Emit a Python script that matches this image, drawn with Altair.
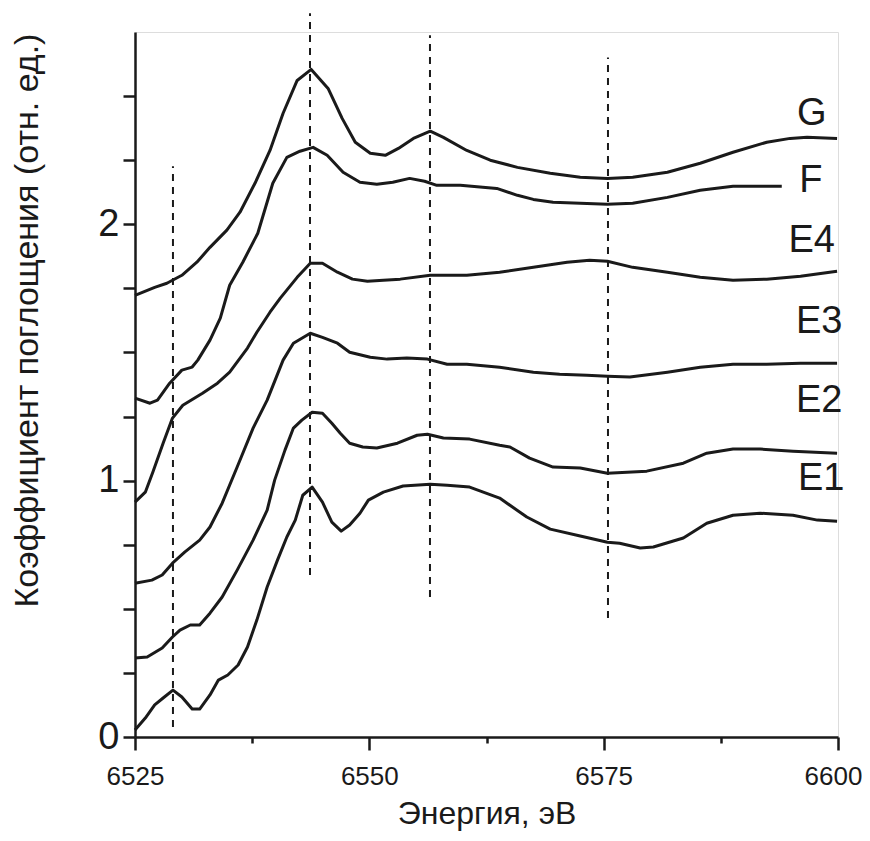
import altair as alt
import pandas as pd

# ---- spectra (energy in eV, absorption in rel. units) ----
G_E = [6525.0, 6527.1, 6528.4, 6530.0, 6531.6, 6533.0, 6534.8, 6536.2, 6537.8, 6539.4, 6540.8, 6542.3,
       6543.8, 6545.6, 6547.1, 6548.5, 6550.1, 6551.7, 6553.1, 6554.7, 6556.5, 6557.9, 6560.4, 6562.9,
       6565.8, 6569.3, 6572.5, 6575.4, 6578.1, 6581.8, 6585.3, 6588.8, 6592.4, 6594.9, 6596.7, 6599.9]
G_mu = [1.723, 1.754, 1.770, 1.801, 1.852, 1.910, 1.977, 2.047, 2.160, 2.288, 2.433, 2.561,
        2.604, 2.530, 2.413, 2.320, 2.277, 2.269, 2.296, 2.335, 2.363, 2.339, 2.288, 2.250,
        2.222, 2.199, 2.183, 2.179, 2.183, 2.203, 2.238, 2.281, 2.320, 2.335, 2.339, 2.335]

F_E = [6525.0, 6526.6, 6527.4, 6528.7, 6530.0, 6531.1, 6531.7, 6533.0, 6534.1, 6535.1, 6536.5, 6538.1,
       6539.7, 6541.2, 6542.6, 6544.0, 6545.5, 6547.2, 6549.0, 6550.8, 6552.5, 6554.3, 6555.9, 6557.2,
       6559.7, 6563.6, 6565.8, 6567.5, 6569.6, 6572.5, 6575.4, 6578.1, 6581.8, 6585.3, 6588.8, 6590.9, 6594.0]
F_mu = [1.322, 1.302, 1.314, 1.380, 1.431, 1.443, 1.470, 1.548, 1.634, 1.762, 1.852, 1.965,
        2.160, 2.261, 2.285, 2.300, 2.269, 2.203, 2.164, 2.156, 2.164, 2.179, 2.168, 2.152,
        2.152, 2.140, 2.113, 2.097, 2.086, 2.082, 2.078, 2.082, 2.105, 2.133, 2.148, 2.148, 2.148]

E4_E = [6525.0, 6526.1, 6526.9, 6528.0, 6529.0, 6530.1, 6532.2, 6533.8, 6535.1, 6537.0, 6538.0, 6539.4,
        6540.5, 6542.3, 6543.7, 6545.0, 6546.6, 6548.2, 6549.8, 6551.5, 6553.3, 6556.5, 6560.4, 6563.9,
        6567.5, 6571.1, 6573.5, 6575.4, 6578.1, 6581.8, 6585.3, 6588.8, 6592.4, 6596.0, 6599.9]
E4_mu = [0.916, 0.955, 1.033, 1.146, 1.244, 1.294, 1.341, 1.380, 1.423, 1.517, 1.579, 1.657,
         1.712, 1.793, 1.848, 1.848, 1.813, 1.786, 1.778, 1.782, 1.786, 1.801, 1.801, 1.813,
         1.832, 1.852, 1.860, 1.856, 1.832, 1.813, 1.793, 1.782, 1.786, 1.797, 1.817]

E3_E = [6525.0, 6526.8, 6527.9, 6529.0, 6530.3, 6531.9, 6533.0, 6534.3, 6535.9, 6537.6, 6539.1, 6540.8,
        6541.9, 6543.7, 6545.0, 6546.6, 6547.9, 6550.1, 6551.9, 6554.0, 6556.2, 6558.3, 6560.4, 6563.9,
        6567.5, 6570.3, 6573.2, 6575.4, 6577.8, 6581.8, 6585.3, 6588.8, 6592.4, 6596.0, 6599.9]
E3_mu = [0.600, 0.612, 0.632, 0.678, 0.721, 0.768, 0.819, 0.912, 1.053, 1.205, 1.314, 1.470,
         1.536, 1.575, 1.559, 1.536, 1.501, 1.481, 1.474, 1.478, 1.474, 1.454, 1.454, 1.442,
         1.423, 1.415, 1.411, 1.407, 1.404, 1.423, 1.442, 1.454, 1.454, 1.458, 1.458]

E2_E = [6525.0, 6526.3, 6527.9, 6529.0, 6529.8, 6530.9, 6531.9, 6533.0, 6534.3, 6535.9, 6537.6, 6539.1,
        6539.9, 6541.0, 6541.9, 6542.8, 6543.9, 6545.0, 6546.0, 6546.9, 6547.9, 6549.3, 6550.8, 6553.0,
        6555.1, 6556.2, 6557.9, 6560.7, 6563.9, 6565.0, 6567.1, 6569.6, 6572.5, 6575.4, 6579.6, 6583.5,
        6586.0, 6588.8, 6591.7, 6595.2, 6599.9]
E2_mu = [0.308, 0.312, 0.347, 0.390, 0.417, 0.437, 0.437, 0.483, 0.546, 0.651, 0.768, 0.885,
         1.002, 1.119, 1.205, 1.236, 1.267, 1.263, 1.224, 1.185, 1.146, 1.131, 1.127, 1.146,
         1.177, 1.181, 1.166, 1.162, 1.138, 1.131, 1.088, 1.053, 1.049, 1.029, 1.037, 1.068,
         1.107, 1.123, 1.123, 1.115, 1.107]

E1_E = [6525.0, 6526.1, 6527.1, 6528.0, 6529.05, 6530.0, 6531.1, 6531.9, 6533.0, 6533.9, 6534.9, 6536.0,
        6537.0, 6538.0, 6539.1, 6540.2, 6541.2, 6542.1, 6542.9, 6543.9, 6545.0, 6546.0, 6547.0, 6547.9,
        6549.0, 6549.9, 6551.5, 6553.6, 6556.5, 6558.3, 6560.7, 6563.9, 6566.8, 6569.3, 6572.5, 6575.4,
        6576.7, 6578.9, 6580.3, 6583.5, 6586.0, 6588.8, 6591.7, 6595.2, 6597.8, 6599.9]
E1_mu = [0.027, 0.074, 0.125, 0.152, 0.183, 0.156, 0.109, 0.109, 0.164, 0.222, 0.242, 0.281,
         0.351, 0.456, 0.585, 0.690, 0.780, 0.846, 0.943, 0.975, 0.916, 0.838, 0.803, 0.827,
         0.873, 0.924, 0.955, 0.979, 0.986, 0.982, 0.975, 0.932, 0.858, 0.811, 0.784, 0.760,
         0.756, 0.737, 0.741, 0.776, 0.834, 0.865, 0.873, 0.865, 0.846, 0.842]

# ---- curve labels ----
lab_text = ["G", "F", "E4", "E3", "E2", "E1"]
lab_E = [6597.2, 6597.1, 6597.2, 6598.0, 6598.0, 6598.2]
lab_mu = [2.386, 2.125, 1.891, 1.575, 1.267, 0.963]

# ---- dashed reference lines ----
dash_E = [6529.05, 6543.67, 6556.47, 6575.46]
dash_lo = [0.039, 0.632, 0.546, 0.464]
dash_hi = [2.226, 2.823, 2.737, 2.651]

# ---- axis ticks ----
x_ticks = [6525, 6537.5, 6550, 6562.5, 6575, 6587.5, 6600]
y_ticks = [0, 0.25, 0.5, 0.75, 1, 1.25, 1.5, 1.75, 2, 2.25, 2.5]

series = [("G", G_E, G_mu), ("F", F_E, F_mu), ("E4", E4_E, E4_mu),
          ("E3", E3_E, E3_mu), ("E2", E2_E, E2_mu), ("E1", E1_E, E1_mu)]
rows = []
for name, es, ms in series:
    for i, (e, m) in enumerate(zip(es, ms)):
        rows.append({"series": name, "i": i, "E": e, "mu": m})
df = pd.DataFrame(rows)
lab_df = pd.DataFrame({"label": lab_text, "E": lab_E, "mu": lab_mu})
dash_df = pd.DataFrame({"E": dash_E, "lo": dash_lo, "hi": dash_hi})

FONT = "Liberation Sans"
x_scale = alt.Scale(domain=[6525, 6600], nice=False, zero=False)
y_scale = alt.Scale(domain=[0, 2.75], nice=False, zero=False)

x_axis = alt.Axis(
    title="Энергия, эВ",
    values=x_ticks,
    labelExpr="datum.value % 25 === 0 ? format(datum.value, 'd') : ''",
    tickSize={"condition": {"test": "datum.value % 25 === 0", "value": 13}, "value": 6},
    labelOffset={"condition": {"test": "datum.value === 6600", "value": -5}, "value": 0},
    tickWidth=2.5, tickColor="#1a1a1a",
    domainColor="#1a1a1a", domainWidth=2.5,
    labelFont=FONT, labelFontSize=26, labelColor="#1a1a1a", labelPadding=13,
    labelFlush=False, labelOverlap=False, grid=False,
    titleFont=FONT, titleFontSize=32, titleFontWeight="normal", titleColor="#1a1a1a",
    titleX=351.5, titleY=86, titleAlign="center", titleBaseline="alphabetic",
)
y_axis = alt.Axis(
    title="Коэффициент поглощения (отн. ед.)",
    values=y_ticks,
    labelExpr="datum.value % 1 === 0 ? format(datum.value, 'd') : ''",
    tickSize=12, tickWidth=2.5, tickColor="#1a1a1a",
    domainColor="#1a1a1a", domainWidth=2.5,
    labelFont=FONT, labelFontSize=38, labelColor="#1a1a1a", labelPadding=4,
    labelFlush=False, labelOverlap=False, grid=False,
    titleFont=FONT, titleFontSize=34, titleFontWeight="normal", titleColor="#1a1a1a",
    titleAngle=270, titleX=-98, titleY=288, titleAlign="center", titleBaseline="alphabetic",
)

lines = alt.Chart(df).mark_line(color="#1a1a1a", strokeWidth=3, strokeJoin="round").encode(
    x=alt.X("E:Q", scale=x_scale, axis=x_axis),
    y=alt.Y("mu:Q", scale=y_scale, axis=y_axis),
    detail="series:N",
    order="i:Q",
)

rules = alt.Chart(dash_df).mark_rule(color="#1a1a1a", strokeWidth=2, strokeDash=[7, 6]).encode(
    x="E:Q", y="lo:Q", y2="hi:Q"
)

labels = alt.Chart(lab_df).mark_text(
    font=FONT, fontSize=38, color="#1a1a1a", align="center", baseline="alphabetic"
).encode(x="E:Q", y="mu:Q", text="label:N")

chart = alt.layer(rules, lines, labels).properties(
    width=703, height=705,
    padding={"left": 127, "top": 24, "right": 24, "bottom": 96},
    autosize=alt.AutoSizeParams(type="none"),
).configure_view(stroke=None).configure(font=FONT, background="white")

chart.save("out.html", embed_options={"renderer": "svg", "actions": False})
